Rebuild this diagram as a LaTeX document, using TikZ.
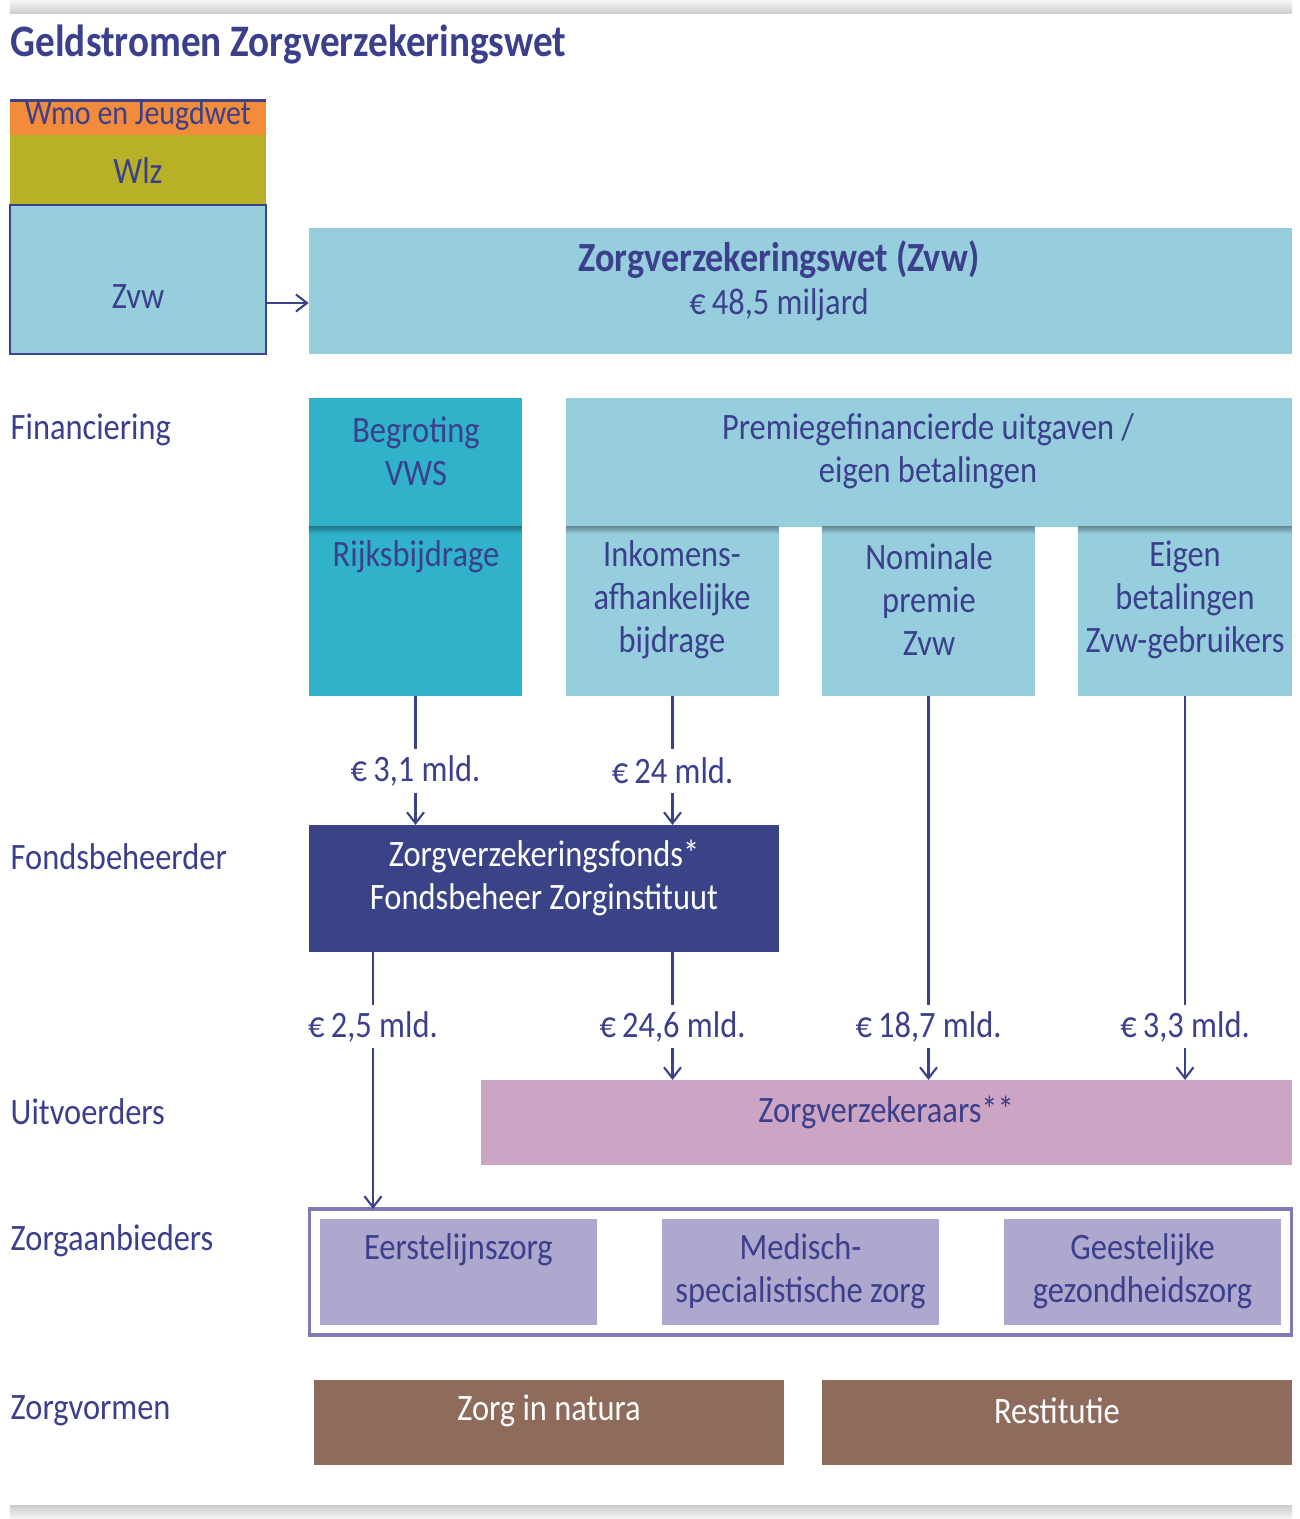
\documentclass[tikz,border=0pt]{standalone}
\usepackage{fontspec}
\setmainfont[FakeStretch=0.87]{Carlito}
\usetikzlibrary{arrows.meta,calc}
\definecolor{txt}{HTML}{3B3F8C}
\definecolor{zvwblue}{HTML}{96CEDD}
\definecolor{teal}{HTML}{31B2CB}
\definecolor{fondsc}{HTML}{3A4288}
\definecolor{pinkc}{HTML}{CCA4C4}
\definecolor{lavfill}{HTML}{AEA8CE}
\definecolor{lavframe}{HTML}{7F79B6}
\definecolor{brownc}{HTML}{8F6B5C}
\definecolor{orangec}{HTML}{F28C3A}
\definecolor{olivec}{HTML}{B8B027}
\begin{document}
\begin{tikzpicture}[x=0.01cm,y=-0.01cm,
  box/.style={inner sep=0pt, outer sep=0pt, draw=none},
  lbl/.style={inner sep=0pt, text=txt, align=center, font=\fontsize{10.6}{12.2}\selectfont},
  wlbl/.style={lbl, text=white},
  side/.style={lbl, anchor=west},
  amt/.style={lbl, minimum height=0.42cm},
  conn/.style={draw=fondsc, line width=0.6pt},
  arr/.style={conn, -{Straight Barb[length=1.1mm,width=1.7mm]}}]
\useasboundingbox (0,0) rectangle (1299,1519);
\fill[white] (0,0) rectangle (1299,1519);
\shade[top color=gray!6, bottom color=gray!40] (10,0) rectangle (1292,14);
\shade[top color=gray!40, bottom color=gray!6] (10,1505) rectangle (1292,1519);

% title
\node[lbl, anchor=west, font=\fontsize{12.8}{14}\selectfont\bfseries] (title) at (10,45) {Geldstromen Zorgverzekeringswet};

% left stack
\node[box, fill=orangec, minimum width=2.56cm, minimum height=0.34cm] (wmo) at (138,118) {};
\node[box, fill=olivec, minimum width=2.56cm, minimum height=0.69cm] (wlz) at (138,169.5) {};
\node[box, fill=zvwblue, draw=fondsc, line width=0.4pt, minimum width=2.56cm, minimum height=1.49cm] (zvwl) at (138,279.5) {};
\draw[fondsc, line width=0.85pt] (wmo.north west) -- (wmo.north east);
\node[lbl, font=\fontsize{9.8}{11}\selectfont] (twmo) at (138,116) {Wmo en Jeugdwet};
\node[lbl] (twlz) at (138,171) {Wlz};
\node[lbl] (tzvwl) at (138,297) {Zvw};

% Zvw big
\node[box, fill=zvwblue, minimum width=9.83cm, minimum height=1.26cm] (zvw) at (800.5,291) {};
\node[lbl] (tzvw) at (779,280.5) {{\fontsize{11.8}{12.2}\selectfont\bfseries Zorgverzekeringswet (Zvw)}\\€\,48,5 miljard};
\draw[arr] ([yshift=-0.235cm]zvwl.east) coordinate (s0) -- (s0 -| zvw.west);

% Financiering
\node[side] (lfin) at (10,430) {Financiering};
\node[box, fill=teal, minimum width=2.13cm, minimum height=1.29cm] (begr) at (415.5,462.5) {};
\node[box, fill=teal, minimum width=2.13cm, minimum height=1.69cm] (rijks) at (415.5,611.5) {};
\node[box, fill=zvwblue, minimum width=7.26cm, minimum height=1.29cm] (prem) at (929,462.5) {};
\node[box, fill=zvwblue, minimum width=2.13cm, minimum height=1.69cm] (inkom) at (672.5,611.5) {};
\node[box, fill=zvwblue, minimum width=2.13cm, minimum height=1.69cm] (nomin) at (928.5,611.5) {};
\node[box, fill=zvwblue, minimum width=2.14cm, minimum height=1.69cm] (eigen) at (1185,611.5) {};
\shade[top color=teal!70!black, bottom color=teal] (rijks.north west) rectangle ++(213,7);
\shade[top color=zvwblue!70!black, bottom color=zvwblue] (inkom.north west) rectangle ++(213,7);
\shade[top color=zvwblue!70!black, bottom color=zvwblue] (nomin.north west) rectangle ++(213,7);
\shade[top color=zvwblue!70!black, bottom color=zvwblue] (eigen.north west) rectangle ++(214,7);
\node[lbl] (tbegr) at (416,451) {Begroting\\VWS};
\node[lbl] (trijks) at (416,557) {Rijksbijdrage};
\node[lbl] (tprem) at (928,451.5) {Premiegefinancierde uitgaven /\\eigen betalingen};
\node[lbl] (tinkom) at (672,599.5) {Inkomens-\\afhankelijke\\bijdrage};
\node[lbl] (tnomin) at (929,599.5) {Nominale\\premie\\Zvw};
\node[lbl] (teigen) at (1185,599.5) {Eigen\\betalingen\\Zvw-gebruikers};

% amounts row 1
\node[amt] (a31) at (415.5,771) {€\,3,1 mld.};
\node[amt] (a24) at (672.5,771) {€\,24 mld.};

% Fondsbeheerder
\node[side] (lfonds) at (10,857) {Fondsbeheerder};
\node[box, fill=fondsc, minimum width=4.70cm, minimum height=1.27cm] (fonds) at (544,888.5) {};
\node[wlbl] (tfonds) at (544,878) {Zorgverzekeringsfonds*\\Fondsbeheer Zorginstituut};
\draw[conn] (rijks.south) -- (a31.north);
\draw[arr] (a31.south) -- (a31 |- fonds.north);
\draw[conn] (inkom.south) -- (a24.north);
\draw[arr] (a24.south) -- (a24 |- fonds.north);

% amounts row 2
\node[amt] (a25) at (373,1026.5) {€\,2,5 mld.};
\node[amt] (a246) at (672.5,1026.5) {€\,24,6 mld.};
\node[amt] (a187) at (928.5,1026.5) {€\,18,7 mld.};
\node[amt] (a33) at (1185,1026.5) {€\,3,3 mld.};

% Uitvoerders
\node[side] (luitv) at (10,1112) {Uitvoerders};
\node[box, fill=pinkc, minimum width=8.11cm, minimum height=0.85cm] (verz) at (886.5,1122.5) {};
\node[lbl] (tverz) at (886,1112) {Zorgverzekeraars**};

% Zorgaanbieders
\node[side] (laanb) at (10,1241) {Zorgaanbieders};
\node[box, draw=lavframe, line width=0.9pt, minimum width=9.81cm, minimum height=1.26cm] (aanb) at (800.5,1272) {};
\node[box, fill=lavfill, minimum width=2.77cm, minimum height=1.06cm] (eerst) at (458.5,1272) {};
\node[box, fill=lavfill, minimum width=2.77cm, minimum height=1.06cm] (msz) at (800.5,1272) {};
\node[box, fill=lavfill, minimum width=2.77cm, minimum height=1.06cm] (ggz) at (1142.5,1272) {};
\node[lbl] (teerst) at (458.5,1250) {Eerstelijnszorg};
\node[lbl] (tmsz) at (800.5,1271.5) {Medisch-\\specialistische zorg};
\node[lbl] (tggz) at (1142.5,1271.5) {Geestelijke\\gezondheidszorg};

\draw[conn] (fonds.south -| a25) -- (a25.north);
\draw[arr] (a25.south) -- (a25 |- aanb.north);
\draw[conn] (fonds.south -| a246) -- (a246.north);
\draw[arr] (a246.south) -- (a246 |- verz.north);
\draw[conn] (nomin.south) -- (a187.north);
\draw[arr] (a187.south) -- (a187 |- verz.north);
\draw[conn] (eigen.south) -- (a33.north);
\draw[arr] (a33.south) -- (a33 |- verz.north);

% Zorgvormen
\node[side] (lvorm) at (10,1411) {Zorgvormen};
\node[box, fill=brownc, minimum width=4.70cm, minimum height=0.85cm] (natura) at (549,1422.5) {};
\node[box, fill=brownc, minimum width=4.70cm, minimum height=0.85cm] (restit) at (1057,1422.5) {};
\node[wlbl] (tnatura) at (549,1411) {Zorg in natura};
\node[wlbl] (trestit) at (1057,1411) {Restitutie};
\end{tikzpicture}
\end{document}
